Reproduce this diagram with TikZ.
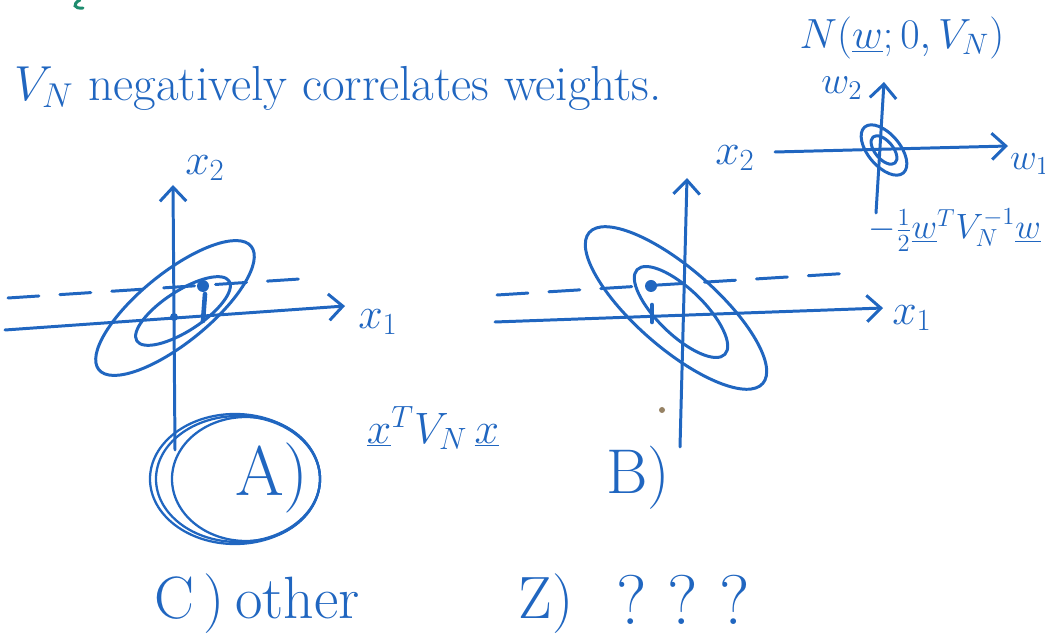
\RequirePackage{fix-cm}
\documentclass[tikz,border=0pt]{standalone}
\usetikzlibrary{arrows.meta}
\definecolor{ink}{RGB}{32,102,192}
\definecolor{oldink}{RGB}{30,140,110}
\definecolor{stain}{RGB}{150,130,100}
\begin{document}
\begin{tikzpicture}[x=0.02cm,y=-0.02cm,
  pen/.style={draw=ink,line width=1.7pt,line cap=round,line join=round},
  axis/.style={pen,-{Straight Barb[length=8pt,width=15pt,line width=1.7pt]}},
  dashpen/.style={pen,dash pattern=on 0.62cm off 0.42cm},
  handtext/.style={text=ink,inner sep=1pt,font=\fontsize{34}{38}\selectfont},
  axlabel/.style={text=ink,inner sep=1pt,font=\fontsize{25}{30}\selectfont}]
\useasboundingbox (0,0) rectangle (1045,641);

% scrap of an earlier line
\draw[oldink,line width=1.7pt,line cap=round] (80,0) .. controls (72,4) and (74,9) .. (83,8);

% heading
\node[handtext,font=\fontsize{28}{33}\selectfont,anchor=west] (head) at (12,88) {$V_N$ negatively correlates weights.};

% A) positive correlation
\coordinate (a1s) at (5,330);   \coordinate (a1e) at (345,306);
\coordinate (a2s) at (175,450); \coordinate (a2e) at (173,185);
\coordinate (adl) at (8,298);   \coordinate (adr) at (315,278);
\draw[axis] (a1s) -- (a1e);
\draw[axis] (a2s) -- (a2e);
\draw[dashpen] (adl) -- (adr);
\node[axlabel] (ax1) at (378,322) {$x_1$};
\node[axlabel] (ax2) at (205,168) {$x_2$};
\draw[pen,rotate around={39:(175,308)}] (175,308) ellipse [x radius=98,y radius=35];
\draw[pen,rotate around={33:(183,311)}] (183,311) ellipse [x radius=55,y radius=20];
\fill[ink] (174,317) circle (4);
\fill[ink] (203,286) circle (6);
\draw[pen,line width=2.6pt] (205,294) -- (203,321);
\foreach \cx/\rx/\ry in {235/85/65,238/82/63,246/74/62}
  \draw[pen,line width=1.3pt] (\cx,479) ellipse [x radius=\rx,y radius=\ry];
\node[handtext,font=\fontsize{40}{44}\selectfont] (choiceA) at (272,478) {A)};

\node[axlabel] (quad) at (433,428) {$\underline{x}^{T}V_N\,\underline{x}$};

% B) negative correlation
\coordinate (b1s) at (495,322); \coordinate (b1e) at (883,308);
\coordinate (b2s) at (680,447); \coordinate (b2e) at (687,178);
\coordinate (bdl) at (497,295); \coordinate (bdr) at (852,273);
\draw[axis] (b1s) -- (b1e);
\draw[axis] (b2s) -- (b2e);
\draw[dashpen] (bdl) -- (bdr);
\node[axlabel] (bx1) at (912,318) {$x_1$};
\node[axlabel] (bx2) at (735,158) {$x_2$};
\draw[pen,rotate around={-41:(676,308)}] (676,308) ellipse [x radius=115,y radius=40];
\draw[pen,rotate around={-44:(681,312)}] (681,312) ellipse [x radius=61,y radius=23];
\fill[ink] (651,286) circle (6);
\draw[pen,line width=2.6pt] (652,305) -- (652,322);
\node[handtext,font=\fontsize{36}{40}\selectfont] (choiceB) at (638,478) {B)};
\fill[stain] (662,410) circle (3);

% prior on the weights
\node[axlabel,font=\fontsize{24}{28}\selectfont] (prior) at (902,38) {$N(\underline{w};0,V_N)$};
\coordinate (w1s) at (775,152); \coordinate (w1e) at (1008,146);
\coordinate (w2s) at (876,213); \coordinate (w2e) at (884,82);
\draw[axis] (w1s) -- (w1e);
\draw[axis] (w2s) -- (w2e);
\node[axlabel,font=\fontsize{21}{25}\selectfont,anchor=west] (lw1) at (1008,164) {$w_1$};
\node[axlabel,font=\fontsize{22}{26}\selectfont] (lw2) at (842,88) {$w_2$};
\draw[pen,rotate around={-50:(884,150)}] (884,150) ellipse [x radius=30,y radius=16];
\draw[pen,rotate around={-50:(884,150)}] (884,150) ellipse [x radius=17,y radius=9];
\node[axlabel,font=\fontsize{20}{24}\selectfont,anchor=west] (logp) at (866,230) {$-\frac{1}{2}\underline{w}^{T}V_N^{-1}\underline{w}$};

% other answers
\node[handtext,anchor=west] (choiceC) at (152,604) {C\,)\,other};
\node[handtext] (choiceZ) at (546,604) {Z)};
\node[handtext,font=\fontsize{40}{44}\selectfont] (qmarks) at (683,600) {?\hspace{0.3em}?\hspace{0.3em}?};
\end{tikzpicture}
\end{document}
